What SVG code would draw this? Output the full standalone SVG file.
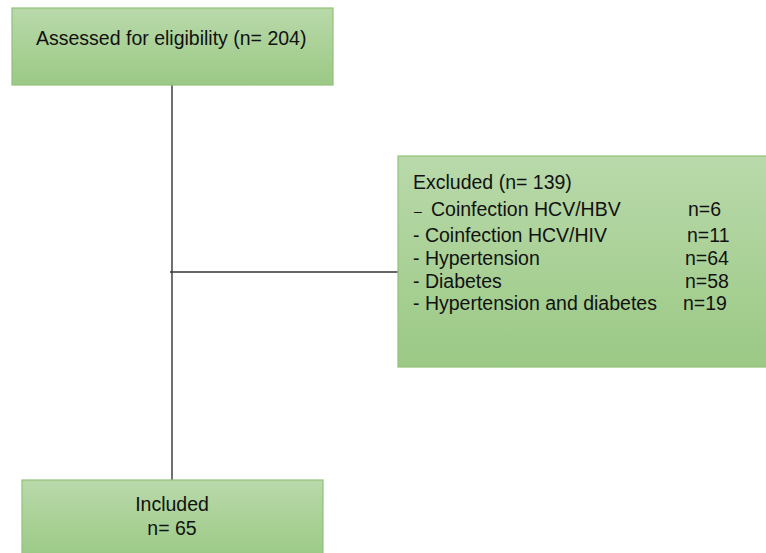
<svg xmlns="http://www.w3.org/2000/svg" width="766" height="553" viewBox="0 0 766 553">
<defs>
<linearGradient id="g" x1="0" y1="0" x2="0" y2="1">
<stop offset="0" stop-color="#b9d9aa"/>
<stop offset="1" stop-color="#9bc985"/>
</linearGradient>
<style>
.box{fill:url(#g);stroke:#8fc279;stroke-width:1.2}
.t{font-family:"Liberation Sans",Arial,sans-serif;font-size:19.5px;fill:#111}
.ln{stroke:#333;stroke-width:1.4;fill:none}
</style>
</defs>
<rect width="766" height="553" fill="#fff"/>
<g id="connectors">
<line class="ln" x1="172" y1="85" x2="172" y2="480"/>
<line class="ln" x1="170" y1="272" x2="398" y2="272"/>
</g>
<g id="assessed">
<rect class="box" x="12" y="8" width="321" height="77"/>
<text class="t" x="36" y="45">Assessed for eligibility (n= 204)</text>
</g>
<g id="excluded">
<rect class="box" x="398" y="156" width="372" height="211"/>
<text class="t" x="413" y="189">Excluded (n= 139)</text>
<text class="t" y="216"><tspan x="414" font-size="14">–</tspan><tspan x="431">Coinfection HCV/HBV</tspan><tspan x="688">n=6</tspan></text>
<text class="t" y="242"><tspan x="413">- Coinfection HCV/HIV</tspan><tspan x="687">n=11</tspan></text>
<text class="t" y="265"><tspan x="413">- Hypertension</tspan><tspan x="685">n=64</tspan></text>
<text class="t" y="288"><tspan x="413">- Diabetes</tspan><tspan x="685">n=58</tspan></text>
<text class="t" y="310"><tspan x="413">- Hypertension and diabetes</tspan><tspan x="683">n=19</tspan></text>
</g>
<g id="included">
<rect class="box" x="22" y="480" width="301" height="80"/>
<text class="t" x="172" y="511" text-anchor="middle">Included</text>
<text class="t" x="172" y="535" text-anchor="middle">n= 65</text>
</g>
</svg>
